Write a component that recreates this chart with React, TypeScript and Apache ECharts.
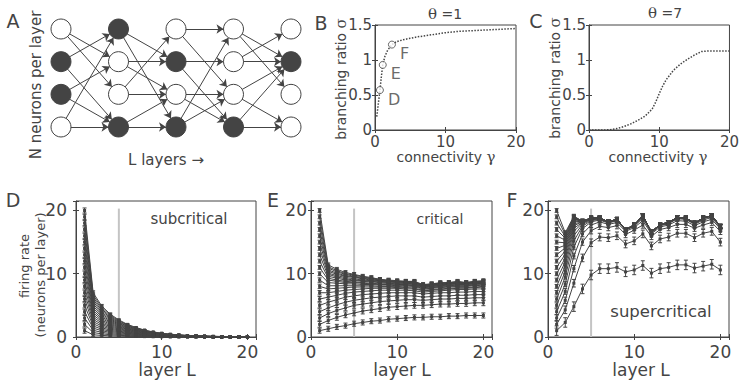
import React, { useEffect, useRef } from 'react';
import * as echarts from 'echarts';

const FONT = 'DejaVu Sans';
const SERIF = 'DejaVu Serif';
const INK = '#444444';

// ---------- Panel A: network ----------
const nodeFill = [
  [0, 1, 1, 0],
  [1, 0, 0, 1],
  [0, 1, 0, 1],
  [0, 0, 0, 1],
  [0, 1, 0, 0],
];
const edges = [
  [[0, 1], [0, 2], [1, 0], [1, 3], [2, 1], [2, 3], [3, 0], [3, 3]],
  [[0, 1], [0, 3], [1, 1], [1, 2], [2, 0], [2, 2], [3, 2], [3, 3]],
  [[0, 0], [0, 2], [1, 1], [1, 3], [2, 2], [2, 3], [3, 0], [3, 2]],
  [[0, 1], [0, 2], [1, 0], [1, 1], [2, 1], [2, 3], [3, 1], [3, 3]],
];

// ---------- Panel B / C ----------
const sigmaTicks = [0, 0.5, 1, 1.5];
const sigmaMax = 1.5;
const gammaB = [0.25, 0.5, 0.7, 0.9, 1.1, 1.4, 1.8, 2.4, 3, 4, 5, 6, 8, 10, 12, 14, 16, 18, 20];
const sigmaB = [0.19, 0.4, 0.57, 0.76, 0.93, 1.05, 1.14, 1.22, 1.26, 1.29, 1.31, 1.33, 1.36, 1.39, 1.41, 1.42, 1.43, 1.44, 1.45];
const markNames = ['D', 'E', 'F'];
const markGamma = [0.7, 1.1, 2.4];
const markSigma = [0.57, 0.93, 1.22];

const gammaC = [0, 1, 2, 3, 4, 5, 6, 7, 8, 9, 9.5, 10, 10.5, 11, 12, 13, 14, 15, 16, 17, 18, 19, 20];
const sigmaC = [0, 0, 0, 0.005, 0.02, 0.05, 0.09, 0.14, 0.2, 0.3, 0.4, 0.52, 0.63, 0.72, 0.85, 0.94, 1.01, 1.07, 1.12, 1.13, 1.13, 1.13, 1.13];

// ---------- Panels D / E / F ----------
const layers = [1, 2, 3, 4, 5, 6, 7, 8, 9, 10, 11, 12, 13, 14, 15, 16, 17, 18, 19, 20];

const rateD = [
  [1, 0.35, 0.25, 0.18, 0.14, 0.1, 0.08, 0.06, 0.04, 0.03, 0.02, 0.02, 0.01, 0.01, 0.01, 0, 0, 0, 0, 0],
  [2, 0.7, 0.5, 0.36, 0.27, 0.2, 0.15, 0.11, 0.08, 0.06, 0.04, 0.03, 0.02, 0.02, 0.01, 0.01, 0.01, 0.01, 0, 0],
  [3, 1.05, 0.74, 0.54, 0.4, 0.3, 0.23, 0.17, 0.12, 0.09, 0.07, 0.05, 0.04, 0.03, 0.02, 0.02, 0.01, 0.01, 0.01, 0.01],
  [4, 1.4, 1, 0.72, 0.54, 0.4, 0.3, 0.22, 0.16, 0.12, 0.09, 0.07, 0.05, 0.04, 0.03, 0.02, 0.02, 0.01, 0.01, 0.01],
  [5, 1.75, 1.23, 0.9, 0.68, 0.5, 0.38, 0.28, 0.2, 0.15, 0.11, 0.09, 0.06, 0.05, 0.04, 0.03, 0.02, 0.02, 0.01, 0.01],
  [6, 2.1, 1.47, 1.08, 0.81, 0.6, 0.45, 0.33, 0.24, 0.18, 0.13, 0.1, 0.07, 0.06, 0.04, 0.03, 0.02, 0.02, 0.01, 0.01],
  [7, 2.45, 1.72, 1.26, 0.95, 0.7, 0.53, 0.39, 0.28, 0.21, 0.15, 0.12, 0.08, 0.07, 0.05, 0.04, 0.03, 0.02, 0.01, 0.01],
  [8, 2.8, 1.96, 1.44, 1.08, 0.8, 0.6, 0.44, 0.32, 0.24, 0.18, 0.14, 0.1, 0.08, 0.06, 0.04, 0.03, 0.02, 0.02, 0.02],
  [9, 3.15, 2.2, 1.62, 1.22, 0.9, 0.68, 0.5, 0.36, 0.27, 0.2, 0.15, 0.11, 0.09, 0.06, 0.05, 0.04, 0.03, 0.02, 0.02],
  [10, 3.5, 2.45, 1.8, 1.35, 1, 0.75, 0.55, 0.4, 0.3, 0.22, 0.17, 0.12, 0.1, 0.07, 0.05, 0.04, 0.03, 0.02, 0.02],
  [11, 3.85, 2.7, 1.98, 1.49, 1.1, 0.83, 0.6, 0.44, 0.33, 0.24, 0.19, 0.13, 0.11, 0.08, 0.06, 0.04, 0.03, 0.02, 0.02],
  [12, 4.2, 2.94, 2.16, 1.62, 1.2, 0.9, 0.66, 0.48, 0.36, 0.26, 0.2, 0.14, 0.12, 0.08, 0.06, 0.05, 0.04, 0.02, 0.02],
  [13, 4.55, 3.19, 2.34, 1.76, 1.3, 0.98, 0.72, 0.52, 0.39, 0.29, 0.22, 0.16, 0.13, 0.09, 0.07, 0.05, 0.04, 0.03, 0.03],
  [14, 4.9, 3.43, 2.52, 1.89, 1.4, 1.05, 0.77, 0.56, 0.42, 0.31, 0.24, 0.17, 0.14, 0.1, 0.07, 0.06, 0.04, 0.03, 0.03],
  [15, 5.25, 3.68, 2.7, 2.03, 1.5, 1.13, 0.83, 0.6, 0.45, 0.33, 0.26, 0.18, 0.15, 0.11, 0.08, 0.06, 0.05, 0.03, 0.03],
  [16, 5.6, 3.92, 2.88, 2.16, 1.6, 1.2, 0.88, 0.64, 0.48, 0.35, 0.27, 0.19, 0.16, 0.11, 0.08, 0.06, 0.05, 0.03, 0.03],
  [17, 5.95, 4.17, 3.06, 2.3, 1.7, 1.28, 0.94, 0.68, 0.51, 0.37, 0.29, 0.2, 0.17, 0.12, 0.09, 0.07, 0.05, 0.03, 0.03],
  [18, 6.3, 4.41, 3.24, 2.43, 1.8, 1.35, 0.99, 0.72, 0.54, 0.4, 0.31, 0.22, 0.18, 0.13, 0.09, 0.07, 0.05, 0.04, 0.04],
  [19, 6.65, 4.66, 3.42, 2.57, 1.9, 1.43, 1.05, 0.76, 0.57, 0.42, 0.32, 0.23, 0.19, 0.13, 0.1, 0.08, 0.06, 0.04, 0.04],
  [20, 7, 4.9, 3.6, 2.7, 2, 1.5, 1.1, 0.8, 0.6, 0.44, 0.34, 0.24, 0.2, 0.14, 0.1, 0.08, 0.06, 0.04, 0.04],
];
const errDLayer = [0.4, 0.3, 0.25, 0.2, 0.16, 0.13, 0.1, 0.08, 0.06, 0.05, 0.04, 0.03, 0.03, 0.02, 0.02, 0.02, 0.01, 0.01, 0.01, 0.01];

const rateE = [
  [1, 1.3, 1.6, 1.8, 2.1, 2.3, 2.5, 2.6, 2.8, 2.9, 3.0, 3.1, 3.1, 3.2, 3.2, 3.3, 3.3, 3.4, 3.4, 3.4],
  [2, 2.6, 3.1, 3.5, 3.8, 4.1, 4.3, 4.5, 4.7, 4.8, 4.9, 5.0, 5.0, 5.1, 5.2, 5.2, 5.3, 5.3, 5.4, 5.4],
  [3, 3.7, 4.2, 4.6, 5.0, 5.2, 5.4, 5.6, 5.7, 5.8, 5.9, 5.9, 5.8, 5.9, 6.0, 6.0, 6.1, 6.1, 6.2, 6.2],
  [4, 4.6, 5.1, 5.5, 5.8, 6.0, 6.2, 6.3, 6.4, 6.5, 6.5, 6.5, 6.3, 6.4, 6.5, 6.5, 6.6, 6.6, 6.7, 6.7],
  [5, 5.5, 5.9, 6.3, 6.5, 6.7, 6.8, 6.9, 7.0, 7.0, 7.0, 7.0, 6.8, 6.9, 7.0, 7.0, 7.1, 7.1, 7.2, 7.2],
  [6, 6.3, 6.6, 6.9, 7.1, 7.2, 7.3, 7.4, 7.4, 7.4, 7.4, 7.3, 7.1, 7.2, 7.3, 7.4, 7.5, 7.5, 7.6, 7.6],
  [7, 7.0, 7.2, 7.4, 7.5, 7.6, 7.7, 7.7, 7.7, 7.7, 7.6, 7.6, 7.3, 7.4, 7.5, 7.6, 7.7, 7.7, 7.8, 7.9],
  [8, 7.6, 7.7, 7.8, 7.9, 7.9, 7.9, 7.9, 7.9, 7.8, 7.8, 7.7, 7.4, 7.5, 7.6, 7.7, 7.8, 7.8, 7.9, 8.0],
  [9, 8.1, 8.1, 8.1, 8.1, 8.1, 8.1, 8.0, 8.0, 8.0, 7.9, 7.9, 7.6, 7.7, 7.8, 7.9, 8.0, 8.0, 8.1, 8.2],
  [10, 8.6, 8.5, 8.4, 8.4, 8.3, 8.3, 8.2, 8.2, 8.1, 8.1, 8.0, 7.7, 7.8, 7.9, 8.0, 8.1, 8.1, 8.2, 8.3],
  [11, 9.0, 8.8, 8.6, 8.6, 8.5, 8.4, 8.3, 8.3, 8.2, 8.2, 8.1, 7.8, 7.9, 8.0, 8.1, 8.2, 8.2, 8.3, 8.4],
  [12, 9.3, 9.0, 8.8, 8.7, 8.6, 8.5, 8.4, 8.4, 8.3, 8.3, 8.2, 7.9, 8.0, 8.1, 8.2, 8.3, 8.3, 8.4, 8.5],
  [13, 9.6, 9.3, 9.0, 8.9, 8.8, 8.7, 8.6, 8.5, 8.4, 8.4, 8.3, 7.9, 8.0, 8.2, 8.3, 8.4, 8.3, 8.5, 8.5],
  [14, 9.9, 9.5, 9.2, 9.0, 8.9, 8.8, 8.7, 8.6, 8.5, 8.5, 8.4, 8.0, 8.1, 8.3, 8.3, 8.5, 8.4, 8.5, 8.6],
  [15, 10.1, 9.7, 9.4, 9.2, 9.0, 8.9, 8.8, 8.7, 8.6, 8.5, 8.5, 8.0, 8.2, 8.3, 8.4, 8.5, 8.4, 8.6, 8.6],
  [16, 10.4, 9.9, 9.6, 9.4, 9.2, 9.0, 8.9, 8.8, 8.7, 8.6, 8.6, 8.1, 8.2, 8.4, 8.4, 8.6, 8.5, 8.6, 8.7],
  [17, 10.6, 10.1, 9.7, 9.5, 9.3, 9.1, 8.9, 8.8, 8.7, 8.7, 8.6, 8.1, 8.3, 8.4, 8.5, 8.6, 8.5, 8.7, 8.7],
  [18, 10.9, 10.3, 9.9, 9.6, 9.4, 9.2, 9.0, 8.9, 8.8, 8.7, 8.7, 8.2, 8.3, 8.5, 8.5, 8.7, 8.5, 8.7, 8.8],
  [19, 11.1, 10.5, 10.0, 9.8, 9.5, 9.3, 9.1, 8.9, 8.8, 8.8, 8.7, 8.2, 8.4, 8.5, 8.6, 8.7, 8.6, 8.8, 8.8],
  [20, 11.4, 10.7, 10.2, 9.9, 9.6, 9.4, 9.1, 9.0, 8.9, 8.8, 8.8, 8.3, 8.4, 8.6, 8.6, 8.8, 8.6, 8.8, 8.9],
];
const errESeries = [0.4, 0.45, 0.45, 0.45, 0.4, 0.4, 0.35, 0.35, 0.35, 0.3, 0.3, 0.3, 0.3, 0.3, 0.3, 0.3, 0.3, 0.3, 0.3, 0.3];

const rateF = [
  [1, 2.3, 4.8, 7.6, 9.8, 10.8, 10.8, 11.0, 10.3, 10.6, 11.3, 10.1, 10.8, 11.0, 11.4, 11.4, 10.9, 11.2, 11.5, 10.6],
  [2, 4.3, 8.5, 12.5, 14.9, 15.8, 15.7, 16.0, 14.7, 15.2, 16.3, 14.4, 15.5, 15.8, 16.4, 16.4, 15.7, 16.4, 16.7, 15.0],
  [3, 5.8, 10.8, 15.0, 16.8, 17.5, 17.3, 17.6, 16.2, 16.9, 17.7, 15.9, 17.0, 17.3, 17.8, 17.8, 17.2, 17.7, 18.1, 16.7],
  [4, 7.2, 12.8, 16.3, 17.7, 18.2, 17.8, 18.1, 16.7, 17.3, 18.4, 16.3, 17.4, 17.7, 18.4, 18.3, 17.6, 18.2, 18.6, 17.1],
  [5, 8.4, 14.2, 17.1, 18.2, 18.5, 18.0, 18.4, 16.9, 17.5, 18.8, 16.5, 17.6, 17.9, 18.7, 18.6, 17.8, 18.5, 18.9, 17.3],
  [6, 9.5, 15.2, 17.5, 18.4, 18.6, 18.1, 18.5, 16.9, 17.6, 19.0, 16.5, 17.7, 18.0, 18.8, 18.7, 17.9, 18.7, 19.1, 17.4],
  [7, 10.4, 16.0, 17.8, 18.5, 18.7, 18.1, 18.5, 16.9, 17.6, 19.1, 16.5, 17.7, 18.0, 18.8, 18.7, 17.9, 18.7, 19.1, 17.4],
  [8, 11.2, 16.7, 18.0, 18.6, 18.7, 18.2, 18.6, 17.0, 17.7, 19.1, 16.6, 17.8, 18.1, 18.9, 18.8, 18.0, 18.8, 19.2, 17.5],
  [9, 11.9, 17.2, 18.1, 18.6, 18.8, 18.2, 18.6, 17.0, 17.7, 19.2, 16.6, 17.8, 18.1, 18.9, 18.8, 18.0, 18.8, 19.2, 17.5],
  [10, 12.5, 17.6, 18.2, 18.7, 18.8, 18.2, 18.6, 17.0, 17.7, 19.2, 16.6, 17.8, 18.1, 18.9, 18.8, 18.0, 18.8, 19.2, 17.5],
  [11, 13.1, 17.9, 18.2, 18.7, 18.8, 18.2, 18.6, 17.0, 17.7, 19.2, 16.6, 17.8, 18.1, 18.9, 18.8, 18.0, 18.8, 19.2, 17.5],
  [12, 13.6, 18.2, 18.3, 18.8, 18.8, 18.2, 18.6, 17.0, 17.7, 19.2, 16.6, 17.8, 18.1, 18.9, 18.8, 18.0, 18.8, 19.2, 17.5],
  [13, 14.1, 18.4, 18.3, 18.8, 18.8, 18.2, 18.6, 17.0, 17.7, 19.2, 16.6, 17.8, 18.1, 18.9, 18.8, 18.0, 18.8, 19.2, 17.5],
  [14, 14.5, 18.6, 18.3, 18.8, 18.8, 18.2, 18.6, 17.0, 17.7, 19.2, 16.6, 17.8, 18.1, 18.9, 18.8, 18.0, 18.8, 19.2, 17.5],
  [15, 14.9, 18.7, 18.3, 18.8, 18.8, 18.2, 18.6, 17.0, 17.7, 19.2, 16.6, 17.8, 18.1, 18.9, 18.8, 18.0, 18.8, 19.2, 17.5],
  [16, 15.3, 18.8, 18.3, 18.8, 18.8, 18.2, 18.6, 17.0, 17.7, 19.2, 16.6, 17.8, 18.1, 18.9, 18.8, 18.0, 18.8, 19.2, 17.5],
  [17, 15.6, 18.9, 18.3, 18.8, 18.8, 18.2, 18.6, 17.0, 17.7, 19.2, 16.6, 17.8, 18.1, 18.9, 18.8, 18.0, 18.8, 19.2, 17.5],
  [18, 15.9, 19.0, 18.3, 18.8, 18.8, 18.2, 18.6, 17.0, 17.7, 19.2, 16.6, 17.8, 18.1, 18.9, 18.8, 18.0, 18.8, 19.2, 17.5],
  [19, 16.2, 19.0, 18.3, 18.8, 18.8, 18.2, 18.6, 17.0, 17.7, 19.2, 16.6, 17.8, 18.1, 18.9, 18.8, 18.0, 18.8, 19.2, 17.5],
  [20, 16.5, 19.1, 18.3, 18.8, 18.8, 18.2, 18.6, 17.0, 17.7, 19.2, 16.6, 17.8, 18.1, 18.9, 18.8, 18.0, 18.8, 19.2, 17.5],
];
const errFSeries = [0.75, 0.6, 0.5, 0.45, 0.4, 0.35, 0.35, 0.3, 0.3, 0.3, 0.3, 0.3, 0.3, 0.3, 0.3, 0.3, 0.3, 0.3, 0.3, 0.3];

const panelLetters = ['A', 'B', 'C', 'D', 'E', 'F'];

// ---------- layout ----------
const gridBoxes = [
  { left: 61, top: 29, width: 230, height: 98 },
  { left: 375, top: 25, width: 141, height: 105 },
  { left: 589, top: 25, width: 142, height: 105 },
  { left: 76, top: 201, width: 180, height: 136 },
  { left: 311, top: 201, width: 181, height: 136 },
  { left: 548, top: 201, width: 181, height: 136 },
];

// ---------- helpers ----------
const fmt = (step: number) => (v: number) => (Math.abs(v / step - Math.round(v / step)) < 1e-6 ? String(v) : '');

function xMain(gi: number, max: number, step: number, labelSize: number, margin: number) {
  return {
    gridIndex: gi, type: 'value', min: 0, max, interval: step, position: 'bottom',
    axisLine: { show: true, onZero: false, lineStyle: { color: INK, width: 1 } },
    axisTick: { show: true, inside: true, length: 3, lineStyle: { color: INK } },
    axisLabel: { color: INK, fontFamily: FONT, fontSize: labelSize, margin, formatter: fmt(step), hideOverlap: false },
    splitLine: { show: false },
  };
}
function yMain(gi: number, max: number, step: number, labelSize: number, margin: number, showLabel = true) {
  return {
    gridIndex: gi, type: 'value', min: 0, max, interval: step, position: 'left',
    axisLine: { show: true, onZero: false, lineStyle: { color: INK, width: 1 } },
    axisTick: { show: true, inside: true, length: 3, lineStyle: { color: INK } },
    axisLabel: { show: showLabel, color: INK, fontFamily: FONT, fontSize: labelSize, margin, formatter: fmt(step), hideOverlap: false },
    splitLine: { show: false },
  };
}
function mirror(gi: number, max: number, step: number, position: string) {
  return {
    gridIndex: gi, type: 'value', min: 0, max, interval: step, position,
    axisLine: { show: false },
    axisTick: { show: true, inside: true, length: 3, lineStyle: { color: INK } },
    axisLabel: { show: false },
    splitLine: { show: false },
  };
}

function rateSeries(ai: number, rates: number[][]) {
  return rates.map((row) => ({
    type: 'line', xAxisIndex: ai, yAxisIndex: ai,
    data: row.map((v, i) => [layers[i], v]),
    symbol: 'rect', symbolSize: 3, showSymbol: true,
    lineStyle: { color: INK, width: 1 }, itemStyle: { color: INK },
    silent: true, z: 3,
  }));
}

function errSeries(ai: number, rates: number[][], errOf: (k: number, i: number) => number) {
  const data: number[][] = [];
  rates.forEach((row, k) => row.forEach((v, i) => data.push([layers[i], v, errOf(k, i)])));
  return {
    type: 'custom', xAxisIndex: ai, yAxisIndex: ai, data, encode: { x: 0, y: 1 }, silent: true, z: 4,
    renderItem: (_p: any, api: any) => {
      const x = api.value(0), y = api.value(1), e = api.value(2);
      const lo = api.coord([x, y - e]);
      const hi = api.coord([x, y + e]);
      const st = { stroke: INK, lineWidth: 1 };
      return {
        type: 'group',
        children: [
          { type: 'line', shape: { x1: lo[0], y1: lo[1], x2: hi[0], y2: hi[1] }, style: st },
          { type: 'line', shape: { x1: lo[0] - 2, y1: lo[1], x2: lo[0] + 2, y2: lo[1] }, style: st },
          { type: 'line', shape: { x1: hi[0] - 2, y1: hi[1], x2: hi[0] + 2, y2: hi[1] }, style: st },
        ],
      };
    },
  };
}

function guideSeries(ai: number) {
  return {
    type: 'line', xAxisIndex: ai, yAxisIndex: ai, data: [[5, 0], [5, 20.3]],
    symbol: 'none', lineStyle: { color: '#c4c4c4', width: 2 }, silent: true, z: 1,
  };
}

function txt(text: string, x: number, y: number, size: number, extra: any = {}, rot = 0) {
  return {
    type: 'text', x, y, rotation: rot, silent: true, z: 1000,
    style: { text, fontSize: size, fontFamily: FONT, fill: INK, align: 'center', verticalAlign: 'middle', ...extra },
  };
}
const greek = (size: number) => ({ rich: { g: { fontFamily: SERIF, fontSize: size, fill: INK } } });

function buildOption() {
  const nodes: any[] = [];
  nodeFill.forEach((col, c) => col.forEach((f, r) => {
    nodes.push({ value: [c, r], itemStyle: { color: f ? INK : '#ffffff', borderColor: INK, borderWidth: 1 } });
  }));
  const links: any[] = [];
  edges.forEach((list, t) => list.forEach(([a, b]) => links.push({ source: t * 4 + a, target: (t + 1) * 4 + b })));

  const grids = gridBoxes.map((g, i) => ({ ...g, show: i > 0, borderColor: INK, borderWidth: 1 }));

  const xAxis = [
    { gridIndex: 0, type: 'value', min: 0, max: 4, show: false },
    xMain(1, 20, 10, 15, 4),
    xMain(2, 20, 10, 15, 4),
    xMain(3, 21, 10, 17, 6),
    xMain(4, 21, 10, 17, 6),
    xMain(5, 21, 10, 17, 6),
    mirror(1, 20, 10, 'top'), mirror(2, 20, 10, 'top'),
    mirror(3, 21, 10, 'top'), mirror(4, 21, 10, 'top'), mirror(5, 21, 10, 'top'),
  ];
  const yAxis = [
    { gridIndex: 0, type: 'value', min: 0, max: 3, inverse: true, show: false },
    yMain(1, sigmaMax, 0.5, 15, 3, false),
    yMain(2, sigmaMax, 0.5, 15, 3, false),
    yMain(3, 21.5, 10, 17, 9),
    yMain(4, 21.5, 10, 17, 4),
    yMain(5, 21.5, 10, 17, 4),
    mirror(1, sigmaMax, 0.5, 'right'), mirror(2, sigmaMax, 0.5, 'right'),
    mirror(3, 21.5, 10, 'right'), mirror(4, 21.5, 10, 'right'), mirror(5, 21.5, 10, 'right'),
  ];

  const series: any[] = [
    {
      type: 'graph', coordinateSystem: 'cartesian2d', xAxisIndex: 0, yAxisIndex: 0,
      data: nodes, links, symbol: 'circle', symbolSize: 20,
      edgeSymbol: ['none', 'arrow'], edgeSymbolSize: [0, 7],
      lineStyle: { color: INK, width: 1, opacity: 1, curveness: 0 },
      label: { show: false }, silent: true, z: 2,
    },
    {
      type: 'line', xAxisIndex: 1, yAxisIndex: 1, data: gammaB.map((g, i) => [g, sigmaB[i]]),
      symbol: 'none', lineStyle: { color: INK, width: 1.5, type: 'dotted' }, silent: true,
    },
    {
      type: 'scatter', xAxisIndex: 1, yAxisIndex: 1,
      data: markNames.map((n, i) => ({ name: n, value: [markGamma[i], markSigma[i]] })),
      symbol: 'circle', symbolSize: 7, itemStyle: { color: '#ffffff', borderColor: INK, borderWidth: 1 },
      label: { show: true, position: 'right', distance: 4, offset: [0, 9], formatter: (p: any) => p.name, fontSize: 16, fontFamily: FONT, color: INK },
      silent: true, z: 5,
    },
    {
      type: 'line', xAxisIndex: 2, yAxisIndex: 2, data: gammaC.map((g, i) => [g, sigmaC[i]]),
      symbol: 'none', lineStyle: { color: INK, width: 1.5, type: 'dotted' }, silent: true,
    },
    guideSeries(3), guideSeries(4), guideSeries(5),
    ...rateSeries(3, rateD), ...rateSeries(4, rateE), ...rateSeries(5, rateF),
    errSeries(3, rateD, (_k, i) => errDLayer[i]),
    errSeries(4, rateE, (k) => errESeries[k]),
    errSeries(5, rateF, (k) => errFSeries[k]),
  ];

  const letterPos = [[13, 21], [321, 23], [536, 21], [13, 200], [273, 200], [512, 200]];
  const graphic: any[] = [
    ...panelLetters.map((l, i) => txt(l, letterPos[i][0], letterPos[i][1], 19)),
    txt('N neurons per layer', 36, 85, 15, {}, Math.PI / 2),
    txt('L layers →', 166, 160, 15),
    txt('{g|θ} =1', 445, 14, 14, greek(15)),
    txt('{g|θ} =7', 665, 13, 14, greek(15)),
    txt('branching ratio {g|σ}', 341, 79, 14, greek(15), Math.PI / 2),
    txt('branching ratio {g|σ}', 555, 78, 14, greek(15), Math.PI / 2),
    txt('connectivity {g|γ}', 446, 157, 14, greek(15)),
    txt('connectivity {g|γ}', 658, 157, 14, greek(15)),
    txt('firing rate', 24, 266, 13, {}, Math.PI / 2),
    txt('(neurons per layer)', 40, 275, 13, {}, Math.PI / 2),
    txt('layer L', 167, 370, 17),
    txt('layer L', 402, 370, 17),
    txt('layer L', 641, 370, 17),
    txt('subcritical', 189, 219, 15),
    txt('critical', 440, 219, 14),
    txt('supercritical', 661, 311, 16.5),
  ];
  // sigma tick labels of panels B and C, on the same linear 0..sigmaMax range as their axes
  [1, 2].forEach((gi) => {
    const g = gridBoxes[gi];
    sigmaTicks.forEach((v) => {
      graphic.push(txt(String(v), g.left - 3, g.top + g.height * (1 - v / sigmaMax), 15, { align: 'right' }));
    });
  });

  return {
    animation: false,
    backgroundColor: '#ffffff',
    grid: grids, xAxis, yAxis, series, graphic,
  };
}

export default function App() {
  const ref = useRef<HTMLDivElement>(null);
  useEffect(() => {
    const chart = echarts.init(ref.current as HTMLDivElement, null, { renderer: 'svg' });
    chart.setOption(buildOption() as any);
    return () => chart.dispose();
  }, []);
  return <div ref={ref} style={{ position: 'fixed', left: 0, top: 0, width: 742, height: 381, background: '#fff' }} />;
}
